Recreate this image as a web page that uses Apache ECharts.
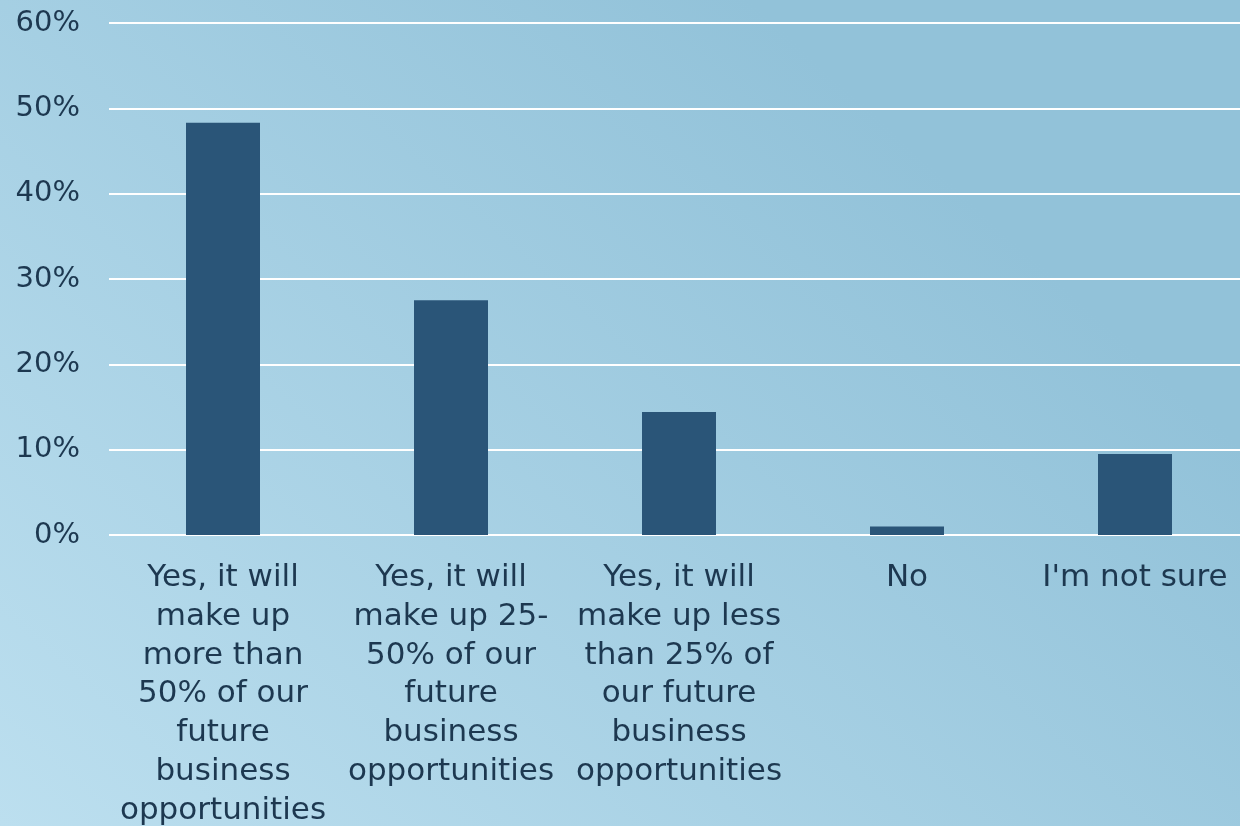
<!DOCTYPE html>
<html>
<head>
<meta charset="utf-8">
<script src="https://cdn.jsdelivr.net/npm/echarts@6/dist/echarts.min.js"></script>
<style>
  html, body { margin: 0; padding: 0; overflow: hidden; }
  /* plot runs slightly past the right edge of the window */
  #chart { width: 1249px; height: 826px; }
</style>
</head>
<body>
<div id="chart"></div>
<script>
// Survey answers (line breaks control the wrapping under each bar)
const categories = [
  "Yes, it will\nmake up\nmore than\n50% of our\nfuture\nbusiness\nopportunities",
  "Yes, it will\nmake up 25-\n50% of our\nfuture\nbusiness\nopportunities",
  "Yes, it will\nmake up less\nthan 25% of\nour future\nbusiness\nopportunities",
  "No",
  "I'm not sure"
];

// Share of respondents, percent
const shares = [48.3, 27.5, 14.4, 1.0, 9.5];

// Value axis range and step, percent
const axisMin = 0;
const axisMax = 60;
const axisStep = 10;

const textColor = "#1d3850";
const fontFamily = "DejaVu Sans";

const chart = echarts.init(document.getElementById("chart"));
chart.setOption({
  animation: false,
  backgroundColor: new echarts.graphic.LinearGradient(0, 1, 0.6, 0, [
    { offset: 0, color: "#bcdfef" },
    { offset: 1, color: "#92c2d9" }
  ]),
  grid: {
    left: 109,
    right: 0,
    top: 23,
    bottom: 291,
    containLabel: false,
    outerBoundsMode: "none"
  },
  xAxis: {
    type: "category",
    data: categories,
    axisLine: { show: false },
    axisTick: { show: false },
    axisLabel: {
      interval: 0,
      margin: 24,
      color: textColor,
      fontFamily: fontFamily,
      fontSize: 31,
      lineHeight: 38.7,
      align: "center"
    }
  },
  yAxis: {
    type: "value",
    min: axisMin,
    max: axisMax,
    interval: axisStep,
    axisLine: { show: false },
    axisTick: { show: false },
    splitLine: { lineStyle: { color: "#ffffff", width: 2 } },
    axisLabel: {
      margin: 29,
      color: textColor,
      fontFamily: fontFamily,
      fontSize: 29,
      formatter: "{value}%"
    }
  },
  series: [{
    type: "bar",
    data: shares,
    barWidth: 74,
    itemStyle: { color: "#2a5578" },
    z: 1
  }]
});
</script>
</body>
</html>
